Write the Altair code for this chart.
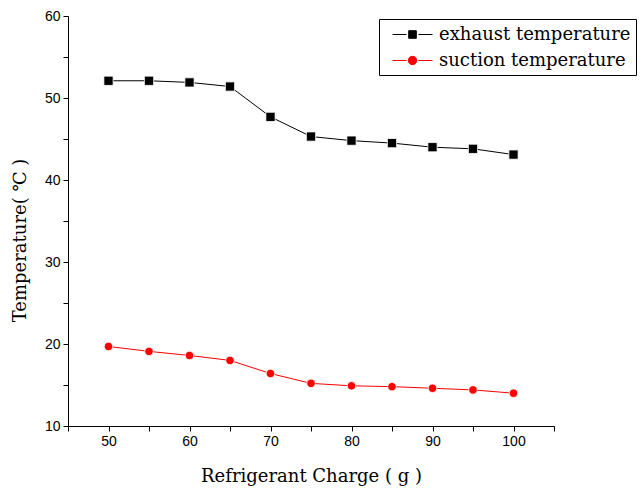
import altair as alt
import pandas as pd

charge = [50, 55, 60, 65, 70, 75, 80, 85, 90, 95, 100]
exhaust = [52.1, 52.1, 51.9, 51.4, 47.7, 45.3, 44.8, 44.5, 44.0, 43.8, 43.1]
suction = [19.7, 19.1, 18.6, 18.0, 16.4, 15.2, 14.9, 14.8, 14.6, 14.4, 14.0]
series_names = ["exhaust temperature", "suction temperature"]
series_colors = ["#000000", "#ff0000"]
x_ticks = list(range(45, 106, 5))
y_ticks = list(range(10, 61, 5))

df = pd.DataFrame({
    "charge": charge * 2,
    "temp": exhaust + suction,
    "series": [series_names[0]] * len(charge) + [series_names[1]] * len(charge),
})

serif = "DejaVu Serif, Noto Sans CJK SC"

x_enc = alt.X("charge:Q", scale=alt.Scale(domain=[45, 105], nice=False, zero=False),
              axis=alt.Axis(values=x_ticks,
                            labelExpr="datum.value % 10 == 0 && datum.value >= 50 && datum.value <= 100 ? datum.label : ''",
                            title="Refrigerant Charge ( g )",
                            titleX=243, titleY=55, titleAnchor="middle", titleAlign="center",
                            titleBaseline="alphabetic"))
y_enc = alt.Y("temp:Q", scale=alt.Scale(domain=[10, 60], nice=False, zero=False),
              axis=alt.Axis(values=y_ticks,
                            labelExpr="datum.value % 10 == 0 ? datum.label : ''",
                            title="Temperature( ℃ )",
                            titleX=-48, titleY=224, titleAngle=-90, titleAlign="center",
                            titleBaseline="middle"))

base = alt.Chart(df)

layers = []
markers = ["square", "circle"]
msizes = [85, 72]
for name, col, shp, ms in zip(series_names, series_colors, markers, msizes):
    sub = base.transform_filter(alt.datum.series == name)
    layers.append(sub.mark_line(color=col, strokeWidth=1).encode(x=x_enc, y=y_enc))
    layers.append(sub.mark_point(shape=shp, filled=True, color=col, size=ms, opacity=1,
                                 stroke="white", strokeWidth=0.8).encode(x=x_enc, y=y_enc))

sq_path = "M-2,0H-0.6M0.6,0H2M-0.38,-0.38H0.38V0.38H-0.38Z"
ci_path = "M-2,0H-0.6M0.6,0H2M-0.42,0A0.42,0.42 0 1,1 0.42,0A0.42,0.42 0 1,1 -0.42,0Z"

leg = alt.Legend(orient="none", legendX=311, legendY=3, title=None,
                 strokeColor="black", fillColor="white", padding=5,
                 labelFont=serif, labelFontSize=18, labelColor="black",
                 labelOffset=16, labelLimit=400, symbolOffset=18,
                 symbolSize=400, symbolStrokeWidth=1,
                 rowPadding=6, symbolOpacity=1)

legend_layer = base.transform_filter("false").mark_point(filled=True, opacity=1).encode(
    color=alt.Color("series:N", scale=alt.Scale(domain=series_names, range=series_colors), legend=leg),
    stroke=alt.Stroke("series:N", scale=alt.Scale(domain=series_names, range=series_colors), legend=leg),
    shape=alt.Shape("series:N", scale=alt.Scale(domain=series_names, range=[sq_path, ci_path]), legend=leg),
)

chart = alt.layer(*layers, legend_layer).properties(
    width=486, height=410,
    padding={"left": 68, "top": 16, "right": 90, "bottom": 63},
    autosize=alt.AutoSizeParams(type="none"),
    background="white",
).configure_view(stroke=None).configure_axis(
    grid=False, domainColor="black", tickColor="black", tickSize=5, tickWidth=1,
    labelFont="Liberation Sans", labelFontSize=14, labelColor="black", labelPadding=3,
    titleFont=serif, titleFontSize=18, titleColor="black", titleFontWeight="normal",
    domainWidth=1,
)

chart.save("out.html", embed_options={"renderer": "svg", "actions": False})
